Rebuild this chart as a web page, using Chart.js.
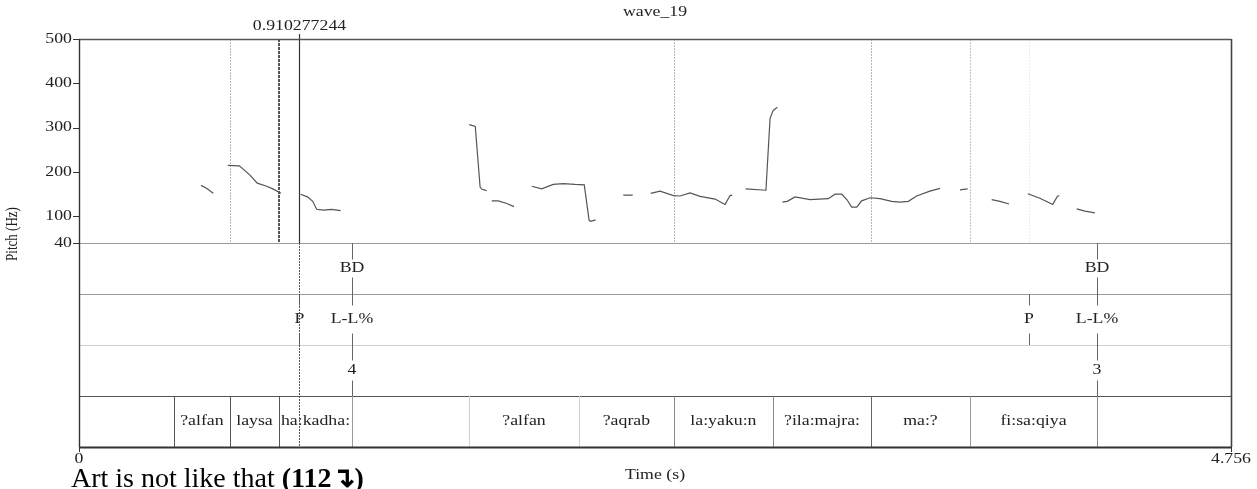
<!DOCTYPE html>
<html>
<head>
<meta charset="utf-8">
<script src="https://cdn.jsdelivr.net/npm/chart.js@4.4.1/dist/chart.umd.min.js"></script>
<style>
  html, body { margin: 0; padding: 0; background: #fff; }
  #wrap { width: 1257px; height: 489px; position: relative; }
</style>
</head>
<body>
<div id="wrap"><canvas id="c" width="1257" height="489"></canvas></div>
<script>
// ---------------- data ----------------
const chartTitle = 'wave_19';
const timeMin = 0;
const timeMax = 4.756;
const pitchMin = 40;
const pitchMax = 500;
const pitchTicks = [40, 100, 200, 300, 400, 500];
const cursorTime = 0.910277244;

// pitch contour (null = unvoiced gap)
const pitchTimes = [
  0.504, 0.528, 0.554, null,
  0.614, 0.662, 0.706, 0.736, 0.775, 0.800, 0.834, null,
  0.915, 0.943, 0.965, 0.981, 1.009, 1.043, 1.080, null,
  1.611, 1.636, 1.656, 1.664, 1.683, null,
  1.704, 1.731, 1.766, 1.796, null,
  1.869, 1.910, 1.958, 1.999, 2.048, 2.086, 2.106, 2.112, 2.133, null,
  2.247, 2.286, null,
  2.360, 2.399, 2.454, 2.481, 2.523, 2.564, 2.626, 2.667, 2.688, 2.697, null,
  2.752, 2.836, 2.853, 2.866, 2.883, null,
  2.904, 2.924, 2.956, 3.018, 3.094, 3.121, 3.149, 3.170, 3.190, 3.211, 3.231, 3.266, 3.307, 3.355, 3.389, 3.424, 3.458, 3.513, 3.555, null,
  3.637, 3.669, null,
  3.768, 3.802, 3.840, null,
  3.917, 3.967, 4.020, 4.039, 4.047, null,
  4.119, 4.153, 4.194
];
const pitchHz = [
  170, 163, 152, null,
  215, 214, 193, 175, 168, 162, 152, null,
  150, 144, 134, 116, 114, 116, 113, null,
  307, 303, 166, 161, 158, null,
  135, 135, 129, 122, null,
  168, 162, 172, 174, 172, 171, 91, 89, 92, null,
  148, 148, null,
  152, 157, 147, 146, 153, 145, 139, 127, 147, 148, null,
  162, 159, 321, 339, 346, null,
  132, 134, 144, 138, 140, 150, 150, 138, 121, 121, 135, 142, 140, 134, 132, 134, 146, 157, 163, null,
  160, 162, null,
  138, 134, 128, null,
  151, 141, 127, 145, 147, null,
  117, 112, 108
];

// guide lines in the pitch panel
const guideTimes = [0.623, 0.826, 2.456, 3.270, 3.678, 3.922];
const guideColors = ['#b8b8b8', '#555555', '#b8b8b8', '#b8b8b8', '#c4c4c4', '#ececec'];

// tier 1: break indices (point tier)
const breakTimes = [1.127, 4.203];
const breakLabels = ['BD', 'BD'];
// tier 2: tones (point tier)
const toneTimes = [0.910, 1.127, 3.922, 4.203];
const toneLabels = ['P', 'L-L%', 'P', 'L-L%'];
// tier 3: prominence index (point tier)
const indexTimes = [1.127, 4.203];
const indexLabels = ['4', '3'];
// tier 4: words (interval tier)
const wordBounds = [0, 0.392, 0.623, 0.826, 1.127, 1.610, 2.064, 2.456, 2.865, 3.270, 3.678, 4.203, 4.756];
const wordLabels = ['', '?alfan', 'laysa', 'ha:kadha:', '', '?alfan', '?aqrab', 'la:yaku:n', '?ila:majra:', 'ma:?', 'fi:sa:qiya', ''];
const wordBoundColors = ['#333', '#555', '#555', '#555', '#999', '#d0d0d0', '#d0d0d0', '#888', '#888', '#666', '#999', '#888', '#333'];

const xAxisLabels = ['0', '4.756'];
const xTitle = 'Time (s)';
const yTitle = 'Pitch (Hz)';
const caption = 'Art is not like that ';
const captionBold = '(112\u21B4)';

// ---------------- drawing ----------------
const SERIF = '"Liberation Serif", "Times New Roman", Times, serif';
const SX = 1.27; // horizontal stretch of the original picture

function txt(ctx, s, x, y, align, size, color, sx) {
  ctx.save();
  ctx.translate(x, y);
  ctx.scale(sx || SX, 1);
  ctx.font = size + 'px ' + SERIF;
  ctx.fillStyle = color || '#222';
  ctx.textAlign = align || 'center';
  ctx.textBaseline = 'middle';
  ctx.fillText(s, 0, 0);
  ctx.restore();
}
function vline(ctx, x, y0, y1, color, w, dash) {
  ctx.save();
  ctx.beginPath();
  ctx.strokeStyle = color; ctx.lineWidth = w || 1;
  ctx.setLineDash(dash || []);
  ctx.moveTo(Math.round(x) + 0.5, y0); ctx.lineTo(Math.round(x) + 0.5, y1);
  ctx.stroke();
  ctx.restore();
}
function hline(ctx, x0, x1, y, color, w) {
  ctx.save();
  ctx.beginPath();
  ctx.strokeStyle = color; ctx.lineWidth = w || 1;
  ctx.moveTo(x0, Math.round(y) + 0.5); ctx.lineTo(x1, Math.round(y) + 0.5);
  ctx.stroke();
  ctx.restore();
}

const praatPlugin = {
  id: 'praat',
  beforeDatasetsDraw(chart) {
    const ctx = chart.ctx;
    const xs = chart.scales.x, ys = chart.scales.y;
    const top = ys.getPixelForValue(pitchMax);
    const base = ys.getPixelForValue(pitchMin);
    guideTimes.forEach((t, i) => {
      const x = xs.getPixelForValue(t);
      if (i === 1) {
        vline(ctx, x - 1, top, base, guideColors[i], 1, [3, 1]);
        vline(ctx, x, top, base, guideColors[i], 1, [3, 1]);
      } else {
        vline(ctx, x, top, base, guideColors[i], 1, [2, 1]);
      }
    });
  },
  afterDatasetsDraw(chart) {
    const ctx = chart.ctx;
    const xs = chart.scales.x, ys = chart.scales.y, ts = chart.scales.t;
    const L = chart.chartArea.left, R = chart.chartArea.right;
    const top = ys.getPixelForValue(pitchMax);
    const base = ys.getPixelForValue(pitchMin);
    const tierY = k => ts.getPixelForValue(k);
    const bottom = tierY(8);

    hline(ctx, L, R, base, '#9a9a9a', 1);
    hline(ctx, L, R, tierY(5), '#9a9a9a', 1);
    hline(ctx, L, R, tierY(6), '#cfcfcf', 1);
    hline(ctx, L, R, tierY(7), '#555', 1.2);

    const pointTier = (times, labels, k, gap) => {
      const y0 = tierY(k), y1 = tierY(k + 1), yc = (y0 + y1) / 2;
      times.forEach((t, i) => {
        const x = xs.getPixelForValue(t);
        vline(ctx, x, y0, yc - gap, '#666', 1);
        vline(ctx, x, yc + gap, y1, '#666', 1);
        txt(ctx, labels[i], x, yc, 'center', 14, '#222');
      });
    };
    pointTier(breakTimes, breakLabels, 4, 9);
    pointTier(toneTimes, toneLabels, 5, 14);
    pointTier(indexTimes, indexLabels, 6, 10);

    const y0 = tierY(7), y1 = tierY(8), yc = (y0 + y1) / 2;
    wordBounds.forEach((t, i) => {
      if (i === 0 || i === wordBounds.length - 1) return;
      vline(ctx, xs.getPixelForValue(t), y0, y1, wordBoundColors[i], 1);
    });
    wordLabels.forEach((w, i) => {
      if (!w) return;
      const xc = (xs.getPixelForValue(wordBounds[i]) + xs.getPixelForValue(wordBounds[i + 1])) / 2;
      txt(ctx, w, xc, yc, 'center', 14, '#222');
    });

    const cx = xs.getPixelForValue(cursorTime);
    vline(ctx, cx, top - 5, base, '#333', 1.2);
    vline(ctx, cx, base, bottom, '#555', 1, [2, 1]);
    txt(ctx, String(cursorTime), cx, top - 13, 'center', 14, '#222');

    hline(ctx, L, R, top, '#555', 1.6);
    vline(ctx, R, top, bottom, '#444', 1.6);
    vline(ctx, L, top, bottom, '#333', 1.4);
    hline(ctx, L, R + 1, bottom, '#333', 1.8);

    pitchTicks.forEach(v => {
      const y = ys.getPixelForValue(v);
      hline(ctx, L - 6, L, y, '#333', 1);
      txt(ctx, String(v), L - 7, y, 'right', 14, '#222');
    });
    [timeMin, timeMax].forEach((v, i) => {
      const x = xs.getPixelForValue(v);
      vline(ctx, x, bottom, bottom + 5, '#333', 1);
      txt(ctx, xAxisLabels[i], x, bottom + 12, 'center', 14, '#222');
    });
    const midX = (L + R) / 2;
    txt(ctx, xTitle, midX, bottom + 28, 'center', 14, '#222');
    txt(ctx, chartTitle, midX, 12, 'center', 14, '#222');

    ctx.save();
    ctx.translate(13, 234);
    ctx.rotate(-Math.PI / 2);
    ctx.scale(1, 1.25);
    ctx.font = '13px ' + SERIF;
    ctx.fillStyle = '#222';
    ctx.textAlign = 'center';
    ctx.textBaseline = 'middle';
    ctx.fillText(yTitle, 0, 0);
    ctx.restore();

    ctx.save();
    ctx.fillStyle = '#000';
    ctx.textBaseline = 'alphabetic';
    ctx.font = '28px ' + SERIF;
    ctx.fillText(caption, 71, 487);
    const w = ctx.measureText(caption).width;
    ctx.font = 'bold 28px ' + SERIF;
    ctx.fillText(captionBold, 71 + w, 487);
    ctx.restore();
  }
};

const points = pitchTimes.map((t, i) => ({ x: t, y: pitchHz[i] }));

new Chart(document.getElementById('c'), {
  type: 'scatter',
  data: {
    datasets: [{
      data: points,
      showLine: true,
      spanGaps: false,
      borderColor: '#555',
      borderWidth: 1.2,
      pointRadius: 0,
      pointHoverRadius: 0,
      tension: 0
    }]
  },
  options: {
    responsive: false,
    animation: false,
    devicePixelRatio: 1,
    layout: { padding: { left: 79, right: 26, top: 39, bottom: 42 } },
    plugins: { legend: { display: false }, tooltip: { enabled: false }, title: { display: false } },
    scales: {
      x: { type: 'linear', axis: 'x', position: 'bottom', display: false, min: timeMin, max: timeMax },
      y: { type: 'linear', axis: 'y', position: 'left', display: false, min: pitchMin - (pitchMax - pitchMin), max: pitchMax },
      t: { type: 'linear', axis: 'y', position: 'right', display: false, min: 0, max: 8, reverse: true }
    }
  },
  plugins: [praatPlugin]
});
</script>
</body>
</html>
